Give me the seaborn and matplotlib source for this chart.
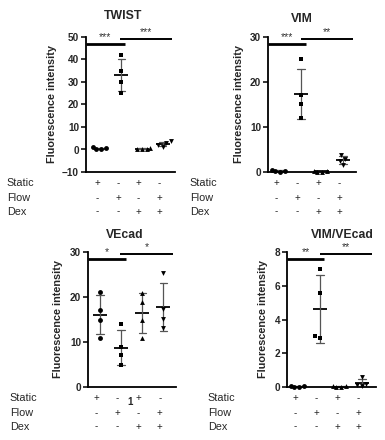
import numpy as np
import pandas as pd
import seaborn as sns
import matplotlib
matplotlib.use("Agg")
import matplotlib.pyplot as plt

# groups / condition table
groups = ["Static", "Flow", "Static+Dex", "Flow+Dex"]
row_names = ["Static", "Flow", "Dex"]
static_row = ["+", "-", "+", "-"]
flow_row = ["-", "+", "-", "+"]
dex_row = ["-", "-", "+", "+"]
markers = ["o", "s", "^", "v"]

# values (4 replicates per group)
twist_static = [0.2, 0.9, 0.5, 0.1]
twist_flow = [42.1, 35.1, 29.9, 25.2]
twist_dex = [0.1, 0.6, 0.3, 0.4]
twist_flow_dex = [3.6, 3.0, 2.0, 1.3]

vim_static = [0.2, 0.5, 0.3, 0.1]
vim_flow = [25.1, 17.0, 15.1, 12.1]
vim_dex = [0.1, 0.3, 0.2, 0.1]
vim_flow_dex = [3.7, 2.9, 2.4, 1.5]

vecad_static = [21.2, 17.1, 15.0, 10.9]
vecad_flow = [14.1, 8.8, 7.1, 5.0]
vecad_dex = [21.0, 18.8, 14.9, 10.9]
vecad_flow_dex = [25.3, 17.3, 15.1, 13.2]

ratio_static = [0.02, 0.05, 0.03, 0.01]
ratio_flow = [7.0, 5.6, 2.92, 3.0]
ratio_dex = [0.01, 0.04, 0.02, 0.03]
ratio_flow_dex = [0.6, 0.2, 0.1, 0.05]

twist_stars = ["***", "***"]
vim_stars = ["***", "**"]
vecad_stars = ["*", "*"]
ratio_stars = ["**", "**"]

sns.set_theme(style="ticks")
plt.rcParams["font.family"] = ["Liberation Sans", "DejaVu Sans"]

W, H = 385, 440
fig = plt.figure(figsize=(W / 100, H / 100), dpi=100)


def make_df(vals):
    rows = []
    for g, v in zip(groups, vals):
        for x in v:
            rows.append({"group": g, "value": x})
    return pd.DataFrame(rows)


# layout per panel: pixel box (left, top, right, bottom), limits, annotation spots
panels = [
    dict(title="TWIST", vals=[twist_static, twist_flow, twist_dex, twist_flow_dex],
         box=(86, 37, 175, 172), ylim=(-10, 50), yticks=np.arange(-10, 51, 10),
         xlim=(-0.72, 3.6), tpos=(0.416, 1.156), ylx=-0.33, stars=twist_stars,
         bars=[(-0.72, 1.17, 46.9, 2.0), (0.93, 3.45, 49.0, 1.4)]),
    dict(title="VIM", vals=[vim_static, vim_flow, vim_dex, vim_flow_dex],
         box=(268, 37, 356, 172), ylim=(0, 30), yticks=np.arange(0, 31, 10),
         xlim=(-0.57, 3.62), tpos=(0.386, 1.13), ylx=-0.27, stars=vim_stars,
         bars=[(-0.57, 1.24, 28.4, 2.0), (1.0, 3.48, 29.5, 1.4)]),
    dict(title="VEcad", vals=[vecad_static, vecad_flow, vecad_dex, vecad_flow_dex],
         box=(88, 252, 176, 387), ylim=(0, 30), yticks=np.arange(0, 31, 10),
         xlim=(-0.57, 3.6), tpos=(0.42, 1.126), ylx=-0.28, stars=vecad_stars,
         bars=[(-0.57, 1.24, 28.4, 2.0), (0.97, 3.45, 29.5, 1.4)]),
    dict(title="VIM/VEcad", vals=[ratio_static, ratio_flow, ratio_dex, ratio_flow_dex],
         box=(287, 252, 376, 387), ylim=(0, 8), yticks=np.arange(0, 9, 2),
         xlim=(-0.57, 3.67), tpos=(0.62, 1.126), ylx=-0.21, stars=ratio_stars,
         bars=[(-0.57, 1.2, 7.57, 2.0), (1.0, 3.48, 7.86, 1.4)]),
]

for p in panels:
    l, t, r, b = p["box"]
    ax = fig.add_axes([l / W, 1 - b / H, (r - l) / W, (b - t) / H])
    df = make_df(p["vals"])

    # mean +/- SD
    sns.pointplot(data=df, x="group", y="value", order=groups, errorbar="sd",
                  color="black", markers="_", markersize=10, markeredgewidth=1.3,
                  linestyle="none", capsize=0.35,
                  err_kws={"color": "#555555", "linewidth": 0.9}, ax=ax)
    # individual points
    for g, m in zip(groups, markers):
        sns.swarmplot(data=df[df["group"] == g], x="group", y="value", order=groups,
                      marker=m, color="black", size=3.5, ax=ax)
    for c in ax.collections:
        c.set_clip_on(False)

    ax.set_xlim(*p["xlim"])
    ax.set_ylim(*p["ylim"])
    ax.set_yticks(p["yticks"])
    ax.set_xticks([])
    ax.set_xlabel("")
    ax.set_ylabel("Fluorescence intensity", fontsize=7.8, fontweight="bold")
    ax.yaxis.set_label_coords(p["ylx"], 0.5)
    for lab in ax.get_yticklabels():
        lab.set_fontweight("bold")
    ax.tick_params(axis="y", labelsize=7.2, length=3.5, width=1.1, pad=1.5, color="black")
    sns.despine(ax=ax)
    for s in ["left", "bottom"]:
        ax.spines[s].set_linewidth(1.3)
        ax.spines[s].set_color("black")

    ax.text(p["tpos"][0], p["tpos"][1], p["title"], transform=ax.transAxes,
            ha="center", va="center", fontsize=8.8, fontweight="bold")

    # significance bars
    for (x0, x1, y, lw), st in zip(p["bars"], p["stars"]):
        ax.plot([x0, x1], [y, y], color="black", lw=lw, clip_on=False,
                solid_capstyle="butt")
        ax.annotate(st, xy=((x0 + x1) / 2, y), xytext=(0, 1.5), textcoords="offset points",
                    ha="center", va="bottom", fontsize=7.5, color="#333333",
                    annotation_clip=False)

    # condition table under the axis
    trans = ax.get_xaxis_transform()
    for name, signs, yy in zip(row_names, [static_row, flow_row, dex_row],
                               [-0.085, -0.19, -0.293]):
        ax.text(-0.89, yy, name, transform=ax.transAxes, ha="left", va="center",
                fontsize=7.8)
        for j, s in enumerate(signs):
            ax.text(j - 0.17, yy, s, transform=trans, ha="center", va="center",
                    fontsize=7)

fig.text(130 / W, 1 - 402 / H, "1", ha="center", va="center", fontsize=7,
         fontweight="bold")

fig.savefig("out.png", dpi=100)
